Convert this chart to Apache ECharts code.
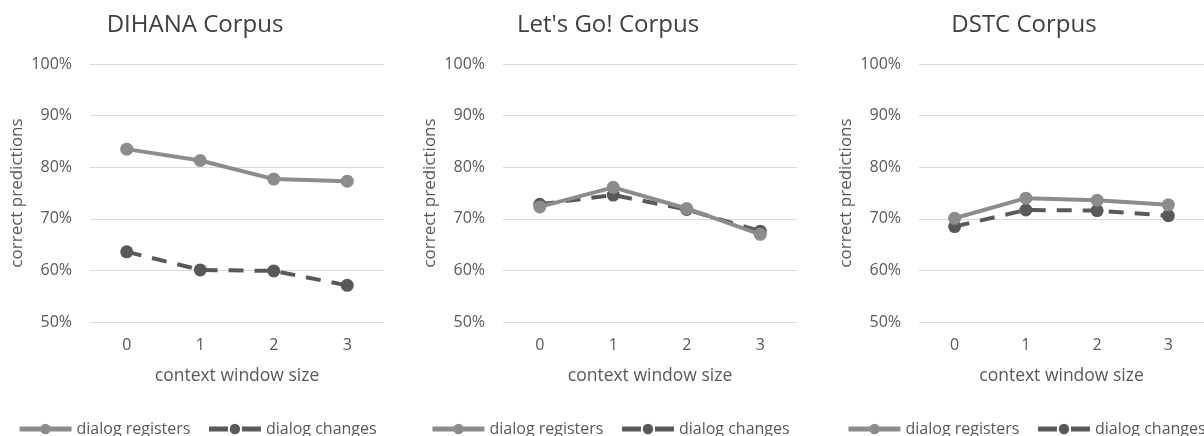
<!DOCTYPE html>
<html>
<head>
<meta charset="utf-8">
<script src="https://cdn.jsdelivr.net/npm/echarts@6/dist/echarts.min.js"></script>
<style>
	html, body {margin: 0; padding: 0; background: #fff;}
	#chart {width: 1204px; height: 436px;}
</style>
</head>
<body>
<div id="chart"></div>
<script>
	let categories = ['0', '1', '2', '3'];
	let titles = ['DIHANA Corpus', "Let's Go! Corpus", 'DSTC Corpus'];
	let seriesNames = ['dialog registers', 'dialog changes'];
	let dihanaRegisters = [83.5, 81.3, 77.7, 77.3];
	let dihanaChanges = [63.6, 60.1, 59.9, 57.1];
	let letsGoRegisters = [72.3, 76.1, 72.0, 67.0];
	let letsGoChanges = [72.8, 74.6, 71.8, 67.6];
	let dstcRegisters = [70.1, 74.0, 73.6, 72.7];
	let dstcChanges = [68.5, 71.7, 71.6, 70.6];

	let panels = [
		[dihanaRegisters, dihanaChanges],
		[letsGoRegisters, letsGoChanges],
		[dstcRegisters, dstcChanges],
	];
	let gridLeft = [90, 503, 919];
	let gridWidth = 294;
	let font = 'Open Sans';
	let textColor = '#595959';

	let grid = [];
	let xAxis = [];
	let yAxis = [];
	let title = [];
	let legend = [];
	let series = [];

	panels.forEach((pair, i) => {
		grid.push({left: gridLeft[i], top: 64, width: gridWidth, height: 258});
		title.push({
			text: titles[i],
			left: gridLeft[i] + gridWidth / 2 - 47,
			top: 8,
			textAlign: 'center',
			textStyle: {fontFamily: font, fontSize: 24, fontWeight: 'normal', color: '#404040'},
		});
		xAxis.push({
			type: 'category',
			gridIndex: i,
			data: categories,
			axisLine: {show: false},
			axisTick: {show: false},
			axisLabel: {fontFamily: font, fontSize: 16, color: textColor, margin: 15},
			name: 'context window size',
			nameLocation: 'middle',
			nameGap: 45,
			nameTextStyle: {fontFamily: font, fontSize: 17.5, color: textColor},
		});
		yAxis.push({
			type: 'value',
			gridIndex: i,
			min: 50,
			max: 100,
			interval: 10,
			axisLabel: {
				fontFamily: font,
				fontSize: 16,
				color: textColor,
				margin: 18,
				formatter: '{value}%',
			},
			splitLine: {lineStyle: {color: '#d9d9d9', width: 1}},
			name: 'correct predictions',
			nameLocation: 'middle',
			nameGap: 64,
			nameTextStyle: {fontFamily: font, fontSize: 17, color: textColor},
		});
		legend.push({
			data: [
				{name: seriesNames[0]},
				{name: seriesNames[1], lineStyle: {type: [19, 14]}},
			],
			left: gridLeft[i] - 73,
			top: 421,
			width: 420,
			padding: 0,
			itemWidth: 52,
			itemHeight: 13,
			itemGap: 16,
			lineStyle: {width: 5},
			textStyle: {fontFamily: font, fontSize: 16, color: textColor},
		});
		series.push({
			name: seriesNames[0],
			type: 'line',
			xAxisIndex: i,
			yAxisIndex: i,
			data: pair[0],
			symbol: 'circle',
			symbolSize: 13,
			itemStyle: {color: '#8c8c8c'},
			lineStyle: {color: '#8c8c8c', width: 4},
			z: 3,
		});
		series.push({
			name: seriesNames[1],
			type: 'line',
			xAxisIndex: i,
			yAxisIndex: i,
			data: pair[1],
			symbol: 'circle',
			symbolSize: 13,
			itemStyle: {color: '#595959'},
			lineStyle: {color: '#595959', width: 4, type: [15, 11]},
			z: 2,
		});
	});

	let chart = echarts.init(document.getElementById('chart'));
	chart.setOption({
		animation: false,
		title,
		grid,
		xAxis,
		yAxis,
		legend,
		series,
	});
</script>
</body>
</html>
